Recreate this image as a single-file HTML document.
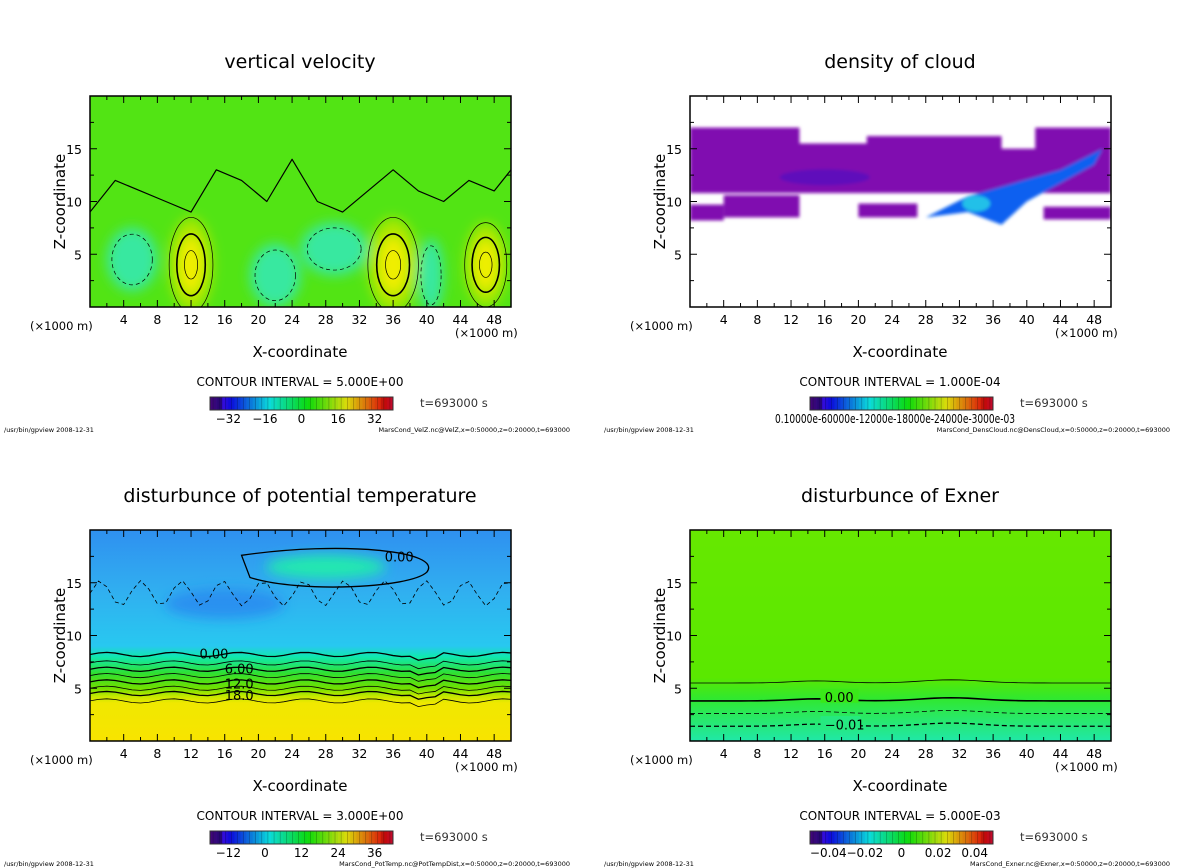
<!DOCTYPE html>
<html><head><meta charset="utf-8"><style>
body{margin:0;background:#fff;width:1200px;height:868px;overflow:hidden;font-family:"Liberation Sans",sans-serif}
svg{display:block}
text{font-family:"DejaVu Sans","Liberation Sans",sans-serif}
</style></head><body>
<svg id="s" width="1200" height="868" xmlns="http://www.w3.org/2000/svg">
<defs>
<filter id="bl" x="-20%" y="-20%" width="140%" height="140%"><feGaussianBlur stdDeviation="6"/></filter>
<filter id="bl2"><feGaussianBlur stdDeviation="1.5"/></filter>
<linearGradient id="g3" x1="0" y1="0" x2="0" y2="1">
<stop offset="0" stop-color="#2f90f0"/><stop offset="0.3" stop-color="#30b0f0"/><stop offset="0.55" stop-color="#28c8f0"/>
<stop offset="0.6" stop-color="#10e8b0"/><stop offset="0.68" stop-color="#30e030"/><stop offset="0.75" stop-color="#70e000"/>
<stop offset="0.79" stop-color="#c8e800"/><stop offset="0.82" stop-color="#f0e800"/><stop offset="1" stop-color="#f8e400"/>
</linearGradient>
<linearGradient id="g4" x1="0" y1="0" x2="0" y2="1">
<stop offset="0" stop-color="#66e800"/><stop offset="0.7" stop-color="#5ae800"/><stop offset="0.8" stop-color="#30e830"/><stop offset="1" stop-color="#20e8a8"/>
</linearGradient>
</defs>
</svg>
<script>
const xTicks=[4,8,12,16,20,24,28,32,36,40,44,48];
const zTicks=[5,10,15];
const titles=["vertical velocity","density of cloud","disturbunce of potential temperature","disturbunce of Exner"];
const intervals=["5.000E+00","1.000E-04","3.000E+00","5.000E-03"];
const cbLabels=[["−32","−16","0","16","32"],["0.10000e-60000e-12000e-18000e-24000e-3000e-03"],["−12","0","12","24","36"],["−0.04","−0.02","0","0.02","0.04"]];
const cbValues=[[-32,-16,0,16,32],[0],[-12,0,12,24,36],[-0.04,-0.02,0,0.02,0.04]];
const cbRange=[[-40,40],[0,1],[-18,42],[-0.05,0.05]];
const files=["MarsCond_VelZ.nc@VelZ,x=0:50000,z=0:20000,t=693000","MarsCond_DensCloud.nc@DensCloud,x=0:50000,z=0:20000,t=693000","MarsCond_PotTemp.nc@PotTempDist,x=0:50000,z=0:20000,t=693000","MarsCond_Exner.nc@Exner,x=0:50000,z=0:20000,t=693000"];
const velUp=[[12,4,2.6,4.5],[36,4,3,4.5],[47,4,2.5,4]];
const velDown=[[5,4.5,3,3],[22,3,3,3],[29,5.5,4,2.5],[40.5,3,1.5,3.5]];
const velZeroX=[0,3,6,9,12,15,18,21,24,27,30,33,36,39,42,45,48,50];
const velZeroZ=[9,12,11,10,9,13,12,10,14,10,9,11,13,11,10,12,11,13];
const cloudBands=[[0,13,11,17],[12,22,11.5,15.5],[21,37,11.5,16.2],[36,42,11,15],[41,50,11,17],[0,50,10.8,13],[0,4,8.2,9.7],[4,13,8.5,10.6],[20,27,8.5,9.8],[42,50,8.3,9.5]];
const exnerLevels=[5.5,3.8,2.6,1.4];
const S=document.getElementById('s');
const NS='http://www.w3.org/2000/svg';
function mk(t,a,p,txt){const e=document.createElementNS(NS,t);for(const k in a)e.setAttribute(k,a[k]);if(txt!==undefined)e.textContent=String(txt);(p||S).appendChild(e);return e;}
function gauss(x,c,w){const d=(x-c)/w;return Math.exp(-(d*d));}
const W=421,H=211;
function panel(i){
  const ox=90+(i%2)*600, oy=96+Math.floor(i/2)*434;
  const X=x=>ox+x/50*W, Z=z=>oy+H-z/20*H;
  const g=mk('g',{});
  
  
  const clip='c'+i;
  const cp=mk('clipPath',{id:clip},S);mk('rect',{x:ox,y:oy,width:W,height:H},cp);
  const f=mk('g',{'clip-path':`url(#${clip})`},g);
  
  
  if(i==0){
    mk('rect',{x:ox,y:oy,width:W,height:H,fill:'#52e414'},f);
    const b=mk('g',{filter:'url(#bl)'},f);
    velDown.forEach(d=>mk('ellipse',{cx:X(d[0]),cy:Z(d[1]),rx:d[2]/50*W,ry:d[3]/20*H,fill:'#38e8a0'},b));
    velUp.forEach(d=>{mk('ellipse',{cx:X(d[0]),cy:Z(d[1]),rx:d[2]/50*W,ry:d[3]/20*H,fill:'#a8e800'},b);
      mk('ellipse',{cx:X(d[0]),cy:Z(d[1]),rx:d[2]/50*W*0.55,ry:d[3]/20*H*0.6,fill:'#f0ee00'},b);});
    velUp.forEach(d=>{[1,0.65,0.3].forEach((s,k)=>mk('ellipse',{cx:X(d[0]),cy:Z(d[1]),rx:d[2]/50*W*s,ry:d[3]/20*H*s,fill:'none',stroke:'#000','stroke-width':k==1?1.6:0.7},f));});
    velDown.forEach(d=>mk('ellipse',{cx:X(d[0]),cy:Z(d[1]),rx:d[2]/50*W*0.8,ry:d[3]/20*H*0.8,fill:'none',stroke:'#000','stroke-width':0.7,'stroke-dasharray':'4 3'},f));
    let pts='';velZeroX.forEach((x,k)=>pts+=`${X(x)},${Z(velZeroZ[k])} `);
    mk('polyline',{points:pts,fill:'none',stroke:'#000','stroke-width':1.2,'stroke-linejoin':'round'},f);
  } else if(i==1){
    mk('rect',{x:ox,y:oy,width:W,height:H,fill:'#fff'},f);
    const b=mk('g',{filter:'url(#bl2)'},f);
    cloudBands.forEach(c=>mk('rect',{x:X(c[0]),y:Z(c[3]),width:(c[1]-c[0])/50*W,height:(c[3]-c[2])/20*H,fill:'#8008b0'},b));
    mk('ellipse',{cx:X(16),cy:Z(12.3),rx:45,ry:8,fill:'#5010c0',opacity:0.7},b);
    mk('polygon',{points:`${X(28)},${Z(8.5)} ${X(33)},${Z(10.5)} ${X(44)},${Z(13)} ${X(49)},${Z(15)} ${X(48)},${Z(13.5)} ${X(40)},${Z(10)} ${X(37)},${Z(7.8)} ${X(33)},${Z(9)}`,fill:'#1060f0'},b);
    mk('ellipse',{cx:X(34),cy:Z(9.8),rx:14,ry:8,fill:'#20c0e8'},b);
  } else if(i==2){
    mk('rect',{x:ox,y:oy,width:W,height:H,fill:'url(#g3)'},f);
    const b=mk('g',{filter:'url(#bl)'},f);
    mk('ellipse',{cx:X(28),cy:Z(16.5),rx:60,ry:12,fill:'#20e8b0'},b);
    mk('ellipse',{cx:X(16),cy:Z(13),rx:60,ry:15,fill:'#2878f0',opacity:0.6},b);
    mk('path',{d:`M${X(18)},${Z(17.6)} C${X(30)},${Z(19)} ${X(42)},${Z(18)} ${X(40)},${Z(16)} C${X(38)},${Z(14.5)} ${X(25)},${Z(14)} ${X(19)},${Z(15.5)} Z`,fill:'none',stroke:'#000','stroke-width':1.3},f);
    [[8.2,1.3],[7.4,0.8],[6.8,1.3],[6.2,0.8],[5.6,1.3],[5,0.8],[4.5,1.3],[3.8,0.8]].forEach(l=>{let p='';for(let x=0;x<=50;x+=1){p+=`${X(x)},${Z(l[0]+0.2*Math.sin(x*0.8)+(Math.abs(x-40)<1.5?-0.5:0))} `;}mk('polyline',{points:p,fill:'none',stroke:'#000','stroke-width':l[1]},f);});
    [[13,7.8,'0.00'],[16,6.4,'6.00'],[16,5,'12.0'],[16,3.9,'18.0']].forEach(t=>{mk('text',{x:X(t[0]),y:Z(t[1]),'font-size':13},f,t[2]);});
    mk('text',{x:X(35),y:Z(17),'font-size':13},f,'0.00');
    let p='';for(let x=0;x<=50;x+=1){p+=`${X(x)},${Z(14+1.2*Math.sin(x*1.3))} `;}mk('polyline',{points:p,fill:'none',stroke:'#000','stroke-width':0.8,'stroke-dasharray':'4 3'},f);
  } else {
    mk('rect',{x:ox,y:oy,width:W,height:H,fill:'url(#g4)'},f);
    exnerLevels.forEach((l,k)=>{let p='';for(let x=0;x<=50;x+=1){p+=`${X(x)},${Z(l+0.3*gauss(x,31,5)+0.2*gauss(x,15,4))} `;}
      mk('polyline',{points:p,fill:'none',stroke:'#000','stroke-width':k==1?1.6:(k==3?1.3:0.8),'stroke-dasharray':k>1?'5 3':'none'},f);});
    mk('rect',{x:X(15.5),y:Z(4.2)-8,width:38,height:14,fill:'#3ae818'},f);
    mk('text',{x:X(16),y:Z(3.7),'font-size':13},f,'0.00');
    mk('rect',{x:X(15.5),y:Z(1.6)-8,width:40,height:14,fill:'#26e880'},f);
    mk('text',{x:X(16),y:Z(1.1),'font-size':13},f,'−0.01');
  }
  mk('rect',{x:ox,y:oy,width:W,height:H,fill:'none',stroke:'#000','stroke-width':1.5},g);
  for(let x=2;x<50;x+=2){const big=x%4==0;mk('line',{x1:X(x),x2:X(x),y1:oy+H,y2:oy+H-(big?7:4),stroke:'#000'},g);mk('line',{x1:X(x),x2:X(x),y1:oy,y2:oy+(big?7:4),stroke:'#000'},g);}
  for(let z=2.5;z<20;z+=2.5){const big=z%5==0;mk('line',{x1:ox,x2:ox+(big?7:4),y1:Z(z),y2:Z(z),stroke:'#000'},g);mk('line',{x1:ox+W,x2:ox+W-(big?7:4),y1:Z(z),y2:Z(z),stroke:'#000'},g);}
  xTicks.forEach(x=>{const t=mk('text',{x:X(x),y:oy+H+17,'font-size':12.5,'text-anchor':'middle'},g,x);});
  zTicks.forEach(z=>{const t=mk('text',{x:ox-8,y:Z(z)+5,'font-size':12.5,'text-anchor':'end'},g,z);});
  let t=mk('text',{x:ox+210,y:oy-28,'font-size':19,'text-anchor':'middle'},g,titles[i]);
  
  
  t=mk('text',{x:ox-25,y:oy+H/2,'font-size':15,'text-anchor':'middle',transform:`rotate(-90 ${ox-25} ${oy+H/2})`},g,'Z-coordinate');
  
  
  t=mk('text',{x:ox+210,y:oy+H+50,'font-size':15,'text-anchor':'middle'},g,'X-coordinate');
  
  
  mk('text',{x:ox-60,y:oy+H+23,'font-size':11.5},g,'(×1000 m)');
  mk('text',{x:ox+365,y:oy+H+30,'font-size':11.5},g,'(×1000 m)');
  t=mk('text',{x:ox+210,y:oy+H+79,'font-size':12,'text-anchor':'middle'},g,'CONTOUR INTERVAL = '+intervals[i]);
  
  
  const cb=mk('g',{},g);
  
  
  const bx=ox+120,by=oy+H+90,bw=183,bh=13,n=60;
  for(let k=0;k<n;k++){const h=270-k/(n-1)*280;const l=k<4?25:(k>n-5?40:45);
    mk('rect',{x:bx+k*bw/n,y:by,width:bw/n+0.3,height:bh,fill:`hsl(${(h+360)%360},90%,${l}%)`},cb);
    if(k%2)mk('line',{x1:bx+k*bw/n,x2:bx+k*bw/n,y1:by,y2:by+bh,stroke:'#000','stroke-width':0.4,opacity:0.5},cb);}
  mk('rect',{x:bx,y:by,width:bw,height:bh,fill:'none',stroke:'#333','stroke-width':1},cb);
  const r=cbRange[i];
  if(i==1){mk('text',{x:bx-35,y:by+26,'font-size':12,textLength:240,lengthAdjust:'spacingAndGlyphs'},cb,cbLabels[1][0]);}
  else cbValues[i].forEach((v,k)=>mk('text',{x:bx+(v-r[0])/(r[1]-r[0])*bw,y:by+26,'font-size':12,'text-anchor':'middle'},cb,cbLabels[i][k]));
  mk('text',{x:bx+210,y:by+10,'font-size':11.5,fill:'#333'},g,'t=693000 s');
  mk('text',{x:ox-86,y:oy+H+125,'font-size':6.5},g,'/usr/bin/gpview   2008-12-31');
  mk('text',{x:ox+480,y:oy+H+125,'font-size':6.5,'text-anchor':'end'},g,files[i]);
}
for(let i=0;i<4;i++)panel(i);
</script>
</body></html>
